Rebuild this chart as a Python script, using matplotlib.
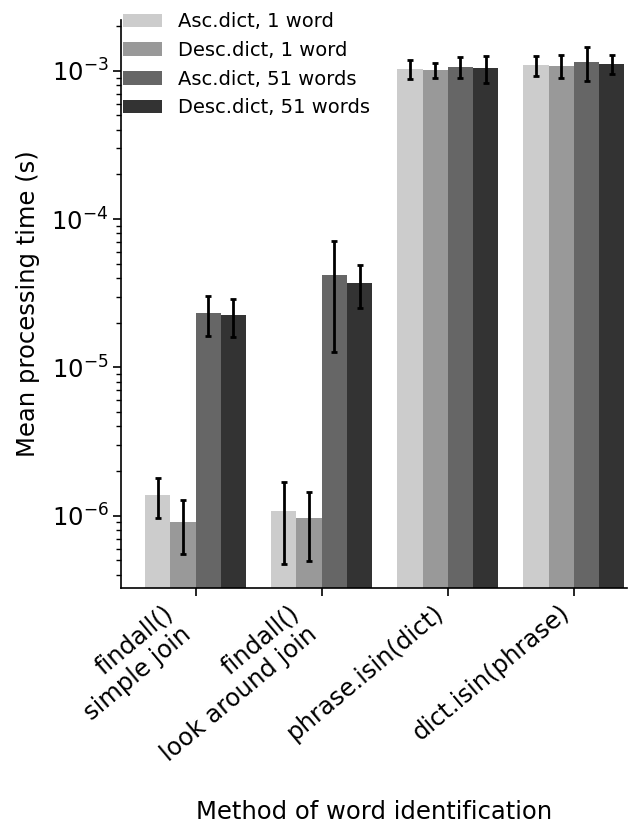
import matplotlib
matplotlib.use('Agg')
import matplotlib.pyplot as plt
import numpy as np

# Word identification methods (x groups)
methods = ["findall()\nsimple join", "findall()\nlook around join",
           "phrase.isin(dict)", "dict.isin(phrase)"]

# Dictionary / phrase-length conditions (bar series)
series_labels = ["Asc.dict, 1 word", "Desc.dict, 1 word",
                 "Asc.dict, 51 words", "Desc.dict, 51 words"]
series_colors = ["#cccccc", "#999999", "#666666", "#333333"]

# Mean processing time (s), one list per condition, ordered like `methods`
asc_1_mean = [1.37e-6, 1.08e-6, 1.03e-3, 1.09e-3]
desc_1_mean = [0.91e-6, 0.97e-6, 1.01e-3, 1.08e-3]
asc_51_mean = [2.32e-5, 4.20e-5, 1.06e-3, 1.15e-3]
desc_51_mean = [2.24e-5, 3.70e-5, 1.04e-3, 1.11e-3]

# Standard deviation (s)
asc_1_sd = [0.41e-6, 0.61e-6, 0.155e-3, 0.165e-3]
desc_1_sd = [0.36e-6, 0.475e-6, 0.12e-3, 0.19e-3]
asc_51_sd = [0.69e-5, 2.93e-5, 0.17e-3, 0.295e-3]
desc_51_sd = [0.65e-5, 1.18e-5, 0.215e-3, 0.165e-3]

means = [asc_1_mean, desc_1_mean, asc_51_mean, desc_51_mean]
sds = [asc_1_sd, desc_1_sd, asc_51_sd, desc_51_sd]

fig = plt.figure(figsize=(6.41, 8.31), dpi=100)
ax = fig.add_axes([0.189, 0.2924, 0.789, 0.6836])

x = np.arange(len(methods))
width = 0.2
for i, (m, s) in enumerate(zip(means, sds)):
    offset = (i - 1.5) * width
    ax.bar(x + offset, m, width, yerr=s, color=series_colors[i],
           label=series_labels[i], edgecolor='none',
           error_kw=dict(ecolor='black', elinewidth=2, capsize=2.5, capthick=2))

ax.set_yscale('log')
ax.set_ylim(3.25e-7, 2.2e-3)
ax.set_xlim(-0.59, 3.42)

ax.set_xticks(x)
ax.set_xticklabels(methods, rotation=40, ha='right', fontsize=17.5)
ax.tick_params(axis='y', labelsize=17.5)
ax.tick_params(axis='both', which='major', length=5.5, width=1.2)
ax.tick_params(axis='y', which='minor', length=3.5, width=1)

ax.spines['top'].set_visible(False)
ax.spines['right'].set_visible(False)
ax.spines['left'].set_linewidth(1.2)
ax.spines['bottom'].set_linewidth(1.2)

ax.set_ylabel("Mean processing time (s)", fontsize=17.5, labelpad=8)
ax.set_xlabel("Method of word identification", fontsize=17.5, labelpad=25)

ax.legend(loc='upper left', bbox_to_anchor=(0.0, 1.017), frameon=False,
          fontsize=14, handlelength=2.0, borderpad=0.1, borderaxespad=0,
          labelspacing=0.5)

fig.savefig("out.png", dpi=100)
